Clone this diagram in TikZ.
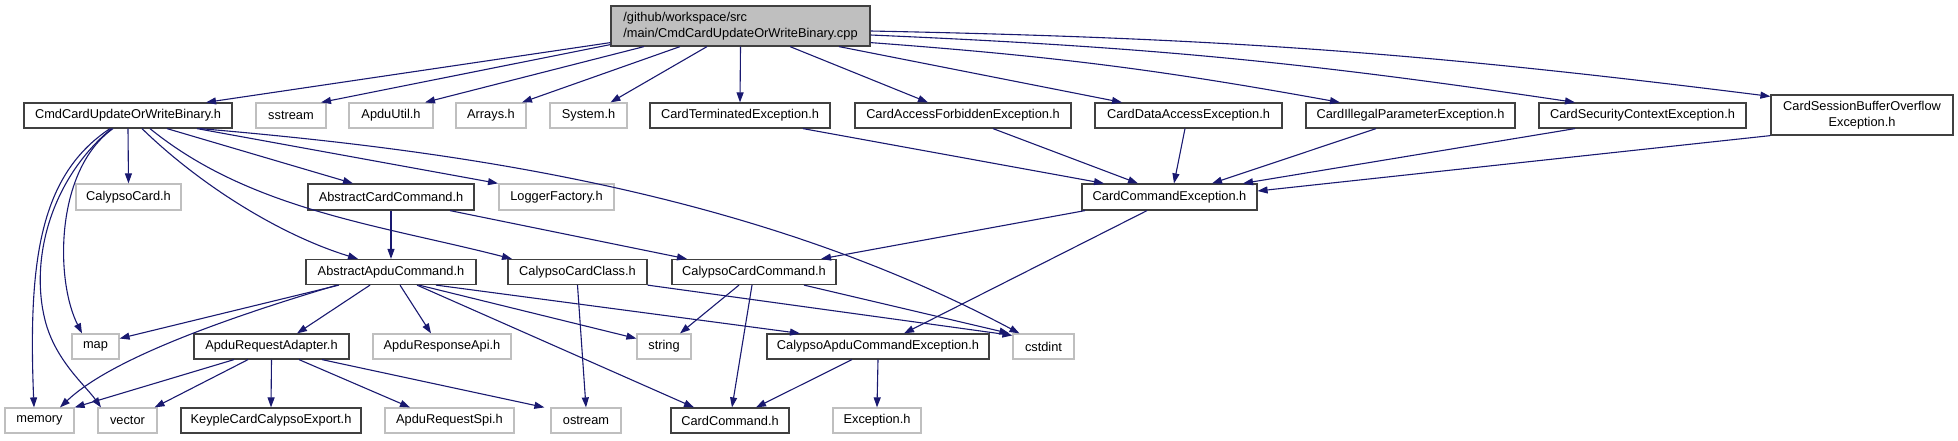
\documentclass[tikz,border=0pt]{standalone}
\usepackage{fontspec}
\setmainfont{Liberation Sans}
\usetikzlibrary{arrows.meta}
\definecolor{edgeblue}{HTML}{191970}
\definecolor{greybd}{HTML}{BFBFBF}
\definecolor{rootfill}{HTML}{BFBFBF}
\definecolor{darkbd}{HTML}{404040}
\newcommand{\fs}{\fontsize{12.8}{15.5}\selectfont}
\begin{document}
\begin{tikzpicture}[x=1pt,y=-1pt,
  base/.style={inner sep=0pt, line width=1.2pt, fill=white, font=\fs, minimum height=25pt},
  bbox/.style={base, draw=darkbd},
  gbox/.style={base, draw=greybd},
  rbox/.style={base, draw=darkbd, fill=rootfill},
  link/.style={draw=edgeblue, line width=1.1pt, -{Triangle[length=10pt,width=7pt]}}]
\useasboundingbox (0,0) rectangle (1958,440);
% rank 0
\node[rbox, minimum width=259pt, minimum height=40pt, align=left] (root) at (740.5,26) {/github/workspace/src\\/main/CmdCardUpdateOrWriteBinary.cpp};
% rank 1
\node[bbox, minimum width=208pt] (cmd) at (128,115.5) {CmdCardUpdateOrWriteBinary.h};
\node[gbox, minimum width=70pt] (sstream) at (291,115.5) {sstream};
\node[gbox, minimum width=84pt] (apduutil) at (391,115.5) {ApduUtil.h};
\node[gbox, minimum width=70pt] (arrays) at (491,115.5) {Arrays.h};
\node[gbox, minimum width=77pt] (system) at (588.5,115.5) {System.h};
\node[bbox, minimum width=180pt] (term) at (740,115.5) {CardTerminatedException.h};
\node[bbox, minimum width=216pt] (forbid) at (963,115.5) {CardAccessForbiddenException.h};
\node[bbox, minimum width=187pt] (dataacc) at (1188.5,115.5) {CardDataAccessException.h};
\node[bbox, minimum width=209pt] (illegal) at (1410.5,115.5) {CardIllegalParameterException.h};
\node[bbox, minimum width=207pt] (secctx) at (1642.5,115.5) {CardSecurityContextException.h};
\node[bbox, minimum width=182pt, minimum height=40pt, align=center] (sessbuf) at (1862,115) {CardSessionBufferOverflow\\Exception.h};
% rank 2
\node[gbox, minimum width=105pt, minimum height=26pt] (calcard) at (128.5,197) {CalypsoCard.h};
\node[bbox, minimum width=166pt, minimum height=26pt] (abscard) at (391,197) {AbstractCardCommand.h};
\node[gbox, minimum width=115pt, minimum height=26pt] (logger) at (556.5,197) {LoggerFactory.h};
\node[bbox, minimum width=175pt, minimum height=26pt] (cce) at (1169.5,197) {CardCommandException.h};
% rank 3
\node[bbox, minimum width=170pt] (absapdu) at (391,272) {AbstractApduCommand.h};
\node[bbox, minimum width=139pt] (cardclass) at (577.5,272) {CalypsoCardClass.h};
\node[bbox, minimum width=164pt] (cardcmd) at (754,272) {CalypsoCardCommand.h};
% rank 4
\node[gbox, minimum width=47pt] (map) at (95.5,346.5) {map};
\node[bbox, minimum width=155pt] (reqadapter) at (271.5,346.5) {ApduRequestAdapter.h};
\node[gbox, minimum width=138pt] (respapi) at (442,346.5) {ApduResponseApi.h};
\node[gbox, minimum width=54pt] (string) at (664,346.5) {string};
\node[bbox, minimum width=222pt] (cace) at (878,346.5) {CalypsoApduCommandException.h};
\node[gbox, minimum width=61pt] (cstdint) at (1043.5,346.5) {cstdint};
% rank 5
\node[gbox, minimum width=69pt] (memory) at (39.5,420.5) {memory};
\node[gbox, minimum width=59pt] (vector) at (127.5,420.5) {vector};
\node[bbox, minimum width=180pt] (keyple) at (271,420.5) {KeypleCardCalypsoExport.h};
\node[gbox, minimum width=129pt] (reqspi) at (449.5,420.5) {ApduRequestSpi.h};
\node[gbox, minimum width=70pt] (ostream) at (586,420.5) {ostream};
\node[bbox, minimum width=118pt] (cardcommand) at (730,420.5) {CardCommand.h};
\node[gbox, minimum width=88pt] (exception) at (877,420.5) {Exception.h};

% root edges
\draw[link] ([yshift=4pt]root.south west) -- ([xshift=78pt]cmd.north);
\draw[link] ([yshift=2pt]root.south west) -- ([xshift=30pt]sstream.north);
\draw[link] ([xshift=-96.5pt]root.south) -- ([xshift=34pt]apduutil.north);
\draw[link] ([xshift=-60.5pt]root.south) -- ([xshift=31pt]arrays.north);
\draw[link] ([xshift=-33.5pt]root.south) -- ([xshift=22pt]system.north);
\draw[link] (root.south) -- (term.north);
\draw[link] ([xshift=49.5pt]root.south) -- ([xshift=-35pt]forbid.north);
\draw[link] ([xshift=98.5pt]root.south) -- ([xshift=-66.5pt]dataacc.north);
\draw[link] ([yshift=4pt]root.south east) to[bend left=3] ([xshift=-70.5pt]illegal.north);
\draw[link] ([yshift=-9pt]root.east) to[bend left=3] ([xshift=-67.5pt]secctx.north);
\draw[link] ([yshift=-5pt]root.east) to[bend left=3] ([yshift=-2pt]sessbuf.north west);
% exceptions -> CardCommandException
\draw[link] ([xshift=63pt]term.south) -- ([xshift=-65.5pt]cce.north);
\draw[link] ([xshift=30pt]forbid.south) -- ([xshift=-31.5pt]cce.north);
\draw[link] ([xshift=-3.5pt]dataacc.south) -- ([xshift=4.5pt]cce.north);
\draw[link] ([xshift=-34.5pt]illegal.south) -- ([xshift=42.5pt]cce.north);
\draw[link] ([xshift=-67.5pt]secctx.south) -- ([xshift=73.5pt]cce.north);
\draw[link] (sessbuf.south west) -- ([yshift=6pt]cce.east);
% CmdCardUpdateOrWriteBinary.h
\draw[link] (cmd.south) -- (calcard.north);
\draw[link] ([xshift=39pt]cmd.south) -- ([xshift=-38pt]abscard.north);
\draw[link] ([xshift=69pt]cmd.south) -- ([xshift=-58.5pt]logger.north);
\draw[link] ([xshift=14pt]cmd.south) .. controls (200,185) and (280,235) .. ([xshift=-33pt]absapdu.north);
\draw[link] ([xshift=22pt]cmd.south) .. controls (250,210) and (380,225) .. ([xshift=-65.5pt]cardclass.north);
\draw[link] ([xshift=72pt]cmd.south) .. controls (450,150) and (750,190) .. ([xshift=-24pt]cstdint.north);
\draw[link] ([xshift=-15pt]cmd.south) .. controls (55,170) and (55,280) .. ([xshift=-13.5pt]map.north);
\draw[link] ([xshift=-18pt]cmd.south) .. controls (40,175) and (28,260) .. ([xshift=-5.5pt]memory.north);
\draw[link] ([xshift=-16.5pt]cmd.south) .. controls (50,180) and (30,260) .. (45,320) .. controls (55,360) and (85,385) .. ([xshift=-26.5pt]vector.north);
% AbstractCardCommand.h
\draw[link] (abscard.south) -- (absapdu.north);
\draw[link] ([xshift=59pt]abscard.south) -- ([xshift=-67pt]cardcmd.north);
% AbstractApduCommand.h
\draw[link] ([xshift=-52pt]absapdu.south) -- ([yshift=8pt]map.east);
\draw[link] ([xshift=-54pt]absapdu.south) .. controls (220,320) and (110,360) .. ([xshift=20.5pt]memory.north);
\draw[link] ([xshift=-21pt]absapdu.south) -- ([xshift=25.5pt]reqadapter.north);
\draw[link] ([xshift=9pt]absapdu.south) -- ([xshift=-11pt]respapi.north);
\draw[link] ([xshift=28pt]absapdu.south) -- ([yshift=8pt]string.west);
\draw[link] ([xshift=45pt]absapdu.south) -- ([xshift=-78pt]cace.north);
\draw[link] ([xshift=26pt]absapdu.south) -- ([xshift=-36pt]cardcommand.north);
% CalypsoCardClass.h
\draw[link] (cardclass.south) -- (ostream.north);
\draw[link] (cardclass.south east) -- ([yshift=-2pt]cstdint.north west);
% CalypsoCardCommand.h
\draw[link] ([xshift=-15pt]cardcmd.south) -- ([xshift=16pt]string.north);
\draw[link] ([xshift=-2pt]cardcmd.south) -- ([xshift=2pt]cardcommand.north);
\draw[link] ([xshift=50pt]cardcmd.south) -- ([xshift=-3pt]cstdint.north west);
% CardCommandException.h
\draw[link] ([xshift=-84.5pt]cce.south) -- ([xshift=67pt]cardcmd.north);
\draw[link] ([xshift=-22.5pt]cce.south) -- ([xshift=26pt]cace.north);
% CalypsoApduCommandException.h
\draw[link] ([xshift=-26pt]cace.south) -- ([xshift=26pt]cardcommand.north);
\draw[link] (cace.south) -- (exception.north);
% ApduRequestAdapter.h
\draw[link] ([xshift=-37.5pt]reqadapter.south) -- (memory.north east);
\draw[link] ([xshift=-23.5pt]reqadapter.south) -- ([xshift=-3pt]vector.north east);
\draw[link] (reqadapter.south) -- (keyple.north);
\draw[link] ([xshift=27.5pt]reqadapter.south) -- ([xshift=-39.5pt]reqspi.north);
\draw[link] ([xshift=50.5pt]reqadapter.south) -- ([xshift=-6pt]ostream.north west);
\end{tikzpicture}
\end{document}
